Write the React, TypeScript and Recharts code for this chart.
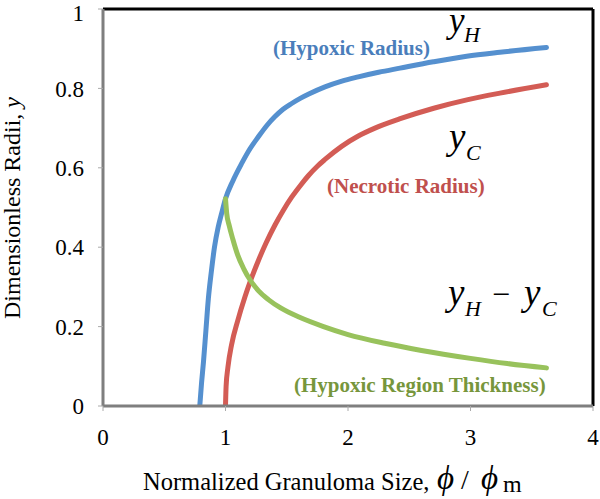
import React from "react";
import { LineChart, Line, XAxis, YAxis, ReferenceLine } from "recharts";

// Hypoxic radius y_H
const hypoxicX = [0.79, 0.805, 0.82, 0.84, 0.86, 0.885, 0.91, 0.94, 0.97, 1.0, 1.06, 1.132, 1.2, 1.268, 1.336, 1.404, 1.47, 1.54, 1.61, 1.68, 1.812, 1.95, 2.084, 2.25, 2.424, 2.697, 2.969, 3.24, 3.62];
const hypoxicY = [0, 0.06, 0.11, 0.19, 0.27, 0.34, 0.4, 0.45, 0.487, 0.522, 0.567, 0.611, 0.648, 0.678, 0.706, 0.729, 0.7475, 0.762, 0.775, 0.786, 0.804, 0.8185, 0.829, 0.8406, 0.851, 0.867, 0.881, 0.891, 0.903];

// Necrotic radius y_C
const necroticX = [1.0, 1.005, 1.02, 1.05, 1.1, 1.159, 1.2, 1.268, 1.33, 1.404, 1.47, 1.54, 1.61, 1.676, 1.75, 1.812, 1.948, 2.084, 2.22, 2.42, 2.7, 2.97, 3.24, 3.62];
const necroticY = [0, 0.05, 0.098, 0.155, 0.215, 0.275, 0.312, 0.366, 0.41, 0.456, 0.492, 0.526, 0.555, 0.58, 0.604, 0.621, 0.654, 0.68, 0.7, 0.723, 0.75, 0.771, 0.788, 0.809];

// Hypoxic region thickness y_H - y_C
const thickX = [1.0, 1.01, 1.03, 1.06, 1.1, 1.15, 1.2, 1.27, 1.35, 1.45, 1.6, 1.8, 2.0, 2.3, 2.6, 3.0, 3.3, 3.62];
const thickY = [0.522, 0.485, 0.455, 0.42, 0.38, 0.345, 0.318, 0.29, 0.268, 0.247, 0.224, 0.2, 0.18, 0.158, 0.14, 0.12, 0.107, 0.096];

const xTicks = [0, 1, 2, 3, 4];
const yTicks = [0, 0.2, 0.4, 0.6, 0.8, 1];

const toRows = (xs: number[], ys: number[]) => xs.map((x, i) => ({ x, y: ys[i] }));

const hypoxicData = toRows(hypoxicX, hypoxicY);
const necroticData = toRows(necroticX, necroticY);
const thickData = toRows(thickX, thickY);

const SERIF = "'Liberation Serif', 'Times New Roman', 'DejaVu Serif', serif";

export default function App() {
  const tickStyle = { fill: "#000", fontFamily: SERIF, fontSize: 23 };
  return (
    <div style={{ position: "absolute", left: 0, top: 0, width: 600, height: 499, background: "#fff" }}>
      <LineChart width={600} height={499} margin={{ top: 9, right: 7, bottom: 0, left: 0 }}>
        <XAxis
          dataKey="x"
          type="number"
          domain={[0, 4]}
          ticks={xTicks}
          allowDataOverflow
          height={93}
          tick={tickStyle}
          tickSize={5}
          tickMargin={18}
          axisLine={{ stroke: "#7f7f7f", strokeWidth: 3 }}
          tickLine={{ stroke: "#aaaaaa" }}
        />
        <YAxis
          dataKey="y"
          type="number"
          domain={[0, 1]}
          ticks={yTicks}
          allowDataOverflow
          width={103}
          tick={tickStyle}
          tickSize={5}
          tickMargin={14}
          axisLine={{ stroke: "#7f7f7f", strokeWidth: 3 }}
          tickLine={{ stroke: "#aaaaaa" }}
        />
        <ReferenceLine y={1} stroke="#000" strokeWidth={3} />
        <ReferenceLine x={4} stroke="#000" strokeWidth={3} />
        <Line data={hypoxicData} dataKey="y" type="monotone" stroke="#5590cf" strokeWidth={5} strokeLinecap="round" dot={false} isAnimationActive={false} />
        <Line data={necroticData} dataKey="y" type="monotone" stroke="#d35c55" strokeWidth={5} strokeLinecap="round" dot={false} isAnimationActive={false} />
        <Line data={thickData} dataKey="y" type="monotone" stroke="#98c25c" strokeWidth={5} strokeLinecap="round" dot={false} isAnimationActive={false} />
      </LineChart>
      <svg width={600} height={499} style={{ position: "absolute", left: 0, top: 0, pointerEvents: "none" }}>
        <g fontFamily={SERIF}>
          <text x={20} y={208} transform="rotate(-90 20 208)" textAnchor="middle" fontSize={24} fill="#000">
            Dimensionless Radii, <tspan fontStyle="italic">y</tspan>
          </text>
          <text x={143} y={490} fontSize={24.5} fill="#000">Normalized Granuloma Size,</text>
          <text x={437} y={489} fontSize={33} fontStyle="italic" fill="#000">ϕ</text>
          <text x={461} y={489} fontSize={28} fill="#000">/</text>
          <text x={481} y={489} fontSize={33} fontStyle="italic" fill="#000">ϕ</text>
          <text x={503} y={492} fontSize={24} fill="#000">m</text>

          <text x={273} y={55} fontSize={21} fontWeight="bold" fill="#4a7ebb">(Hypoxic Radius)</text>
          <text x={327} y={193} fontSize={21} fontWeight="bold" fill="#c0504d">(Necrotic Radius)</text>
          <text x={294} y={392} fontSize={21} fontWeight="bold" fill="#77963c">(Hypoxic Region Thickness)</text>

          <text x={449} y={32} fontSize={35} fontStyle="italic" fill="#000">y</text>
          <text x={464} y={42} fontSize={22} fontStyle="italic" fill="#000">H</text>

          <text x={449} y={149} fontSize={37} fontStyle="italic" fill="#000">y</text>
          <text x={466} y={160} fontSize={22} fontStyle="italic" fill="#000">C</text>

          <text x={448} y={305} fontSize={37} fontStyle="italic" fill="#000">y</text>
          <text x={465} y={316} fontSize={22} fontStyle="italic" fill="#000">H</text>
          <text x={492} y={305} fontSize={32} fill="#000">−</text>
          <text x={524} y={305} fontSize={37} fontStyle="italic" fill="#000">y</text>
          <text x={542} y={316} fontSize={22} fontStyle="italic" fill="#000">C</text>
        </g>
      </svg>
    </div>
  );
}
